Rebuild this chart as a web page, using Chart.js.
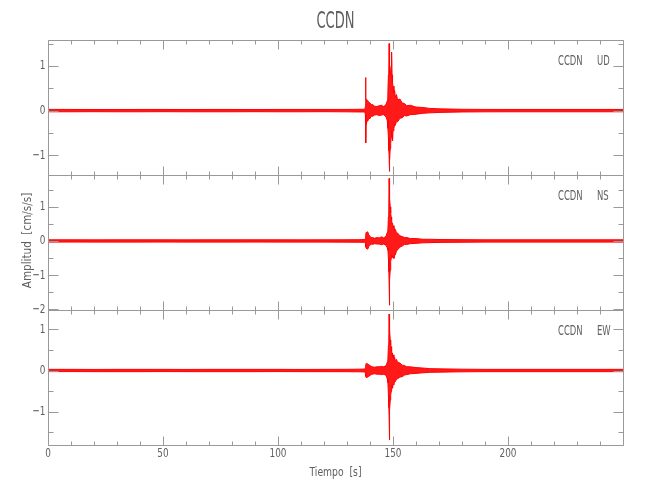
<!DOCTYPE html>
<html><head><meta charset="utf-8">
<script src="https://cdn.jsdelivr.net/npm/chart.js@4"></script>
<style>
html,body{margin:0;padding:0;background:#fff;}
#wrap{position:relative;width:650px;height:500px;}
canvas{position:absolute;left:0;top:0;}
</style></head><body>
<div id="wrap">
<canvas id="c1" width="650" height="500"></canvas>
<canvas id="c2" width="650" height="500"></canvas>
<canvas id="c3" width="650" height="500"></canvas>
</div>
<script>
// ---- data (seconds, cm/s/s envelope read from the record) ----
const times = [0,10,20,30,40,50,60,70,80,90,100,110,120,130,135,
  137.8,138.0,138.1,138.2,138.3,138.5,139.0,139.5,140.0,140.5,141.0,142,143,144,145,146,147,147.5,147.8,148.0,148.2,148.3,148.4,148.5,148.6,148.8,149.0,149.2,149.4,149.6,149.8,150.0,150.4,150.7,151.0,151.5,152,153,154,155,156,157.5,160,163,166,170,
  180,190,200,210,220,230,240,250];

const udUpper = [0.028,0.026,0.025,0.024,0.026,0.026,0.024,0.026,0.026,0.024,0.026,0.026,0.026,0.027,0.03,
  0.03,0.1,0.74,0.3,0.25,0.22,0.23,0.18,0.17,0.13,0.14,0.1,0.09,0.11,0.12,0.09,0.14,0.22,0.45,0.8,1.0,1.5,1.0,0.85,1.0,0.8,0.9,1.0,1.31,0.8,0.62,0.55,0.38,0.45,0.3,0.36,0.24,0.26,0.17,0.16,0.11,0.12,0.08,0.07,0.05,0.04,
  0.03,0.027,0.026,0.026,0.026,0.026,0.026,0.026];
const udLower = [-0.026,-0.026,-0.024,-0.026,-0.026,-0.024,-0.026,-0.026,-0.026,-0.024,-0.026,-0.026,-0.024,-0.027,-0.03,
  -0.03,-0.1,-0.3,-0.72,-0.3,-0.22,-0.24,-0.17,-0.18,-0.12,-0.13,-0.1,-0.09,-0.11,-0.1,-0.09,-0.14,-0.22,-0.4,-0.6,-0.9,-1.0,-1.36,-1.05,-1.1,-0.85,-0.74,-0.6,-0.45,-0.55,-0.67,-0.45,-0.4,-0.3,-0.33,-0.24,-0.25,-0.17,-0.16,-0.11,-0.12,-0.09,-0.08,-0.06,-0.05,-0.04,
  -0.03,-0.027,-0.026,-0.026,-0.026,-0.026,-0.026,-0.026];

const nsUpper = [0.034,0.034,0.032,0.034,0.034,0.034,0.032,0.034,0.034,0.034,0.034,0.032,0.034,0.035,0.038,
  0.04,0.08,0.15,0.2,0.25,0.24,0.27,0.18,0.13,0.1,0.1,0.08,0.1,0.09,0.12,0.09,0.14,0.25,0.37,0.7,1.2,1.83,1.3,1.49,1.25,1.0,0.81,0.7,0.61,0.5,0.52,0.42,0.45,0.32,0.34,0.24,0.23,0.15,0.13,0.1,0.1,0.07,0.07,0.05,0.05,0.042,
  0.038,0.034,0.034,0.034,0.034,0.034,0.034,0.034];
const nsLower = [-0.034,-0.032,-0.034,-0.034,-0.034,-0.032,-0.034,-0.034,-0.034,-0.032,-0.034,-0.034,-0.034,-0.035,-0.038,
  -0.04,-0.07,-0.12,-0.18,-0.2,-0.22,-0.24,-0.16,-0.12,-0.09,-0.1,-0.08,-0.09,-0.09,-0.11,-0.09,-0.13,-0.2,-0.27,-0.5,-0.9,-1.2,-1.88,-1.5,-1.15,-0.85,-0.6,-0.51,-0.41,-0.45,-0.48,-0.44,-0.51,-0.4,-0.41,-0.3,-0.26,-0.18,-0.15,-0.1,-0.1,-0.08,-0.07,-0.055,-0.05,-0.042,
  -0.038,-0.034,-0.034,-0.034,-0.034,-0.034,-0.034,-0.034];

const ewUpper = [0.028,0.028,0.026,0.028,0.028,0.028,0.026,0.028,0.028,0.028,0.028,0.026,0.028,0.029,0.032,
  0.035,0.07,0.1,0.14,0.17,0.17,0.16,0.14,0.12,0.1,0.09,0.08,0.09,0.09,0.1,0.09,0.12,0.2,0.3,0.6,0.9,1.37,0.9,1.0,0.98,0.74,0.62,0.58,0.46,0.42,0.33,0.38,0.28,0.32,0.24,0.27,0.2,0.18,0.13,0.12,0.09,0.09,0.07,0.06,0.045,0.04,
  0.032,0.028,0.028,0.028,0.028,0.028,0.028,0.028];
const ewLower = [-0.028,-0.026,-0.028,-0.028,-0.028,-0.026,-0.028,-0.028,-0.028,-0.028,-0.026,-0.028,-0.028,-0.029,-0.032,
  -0.035,-0.07,-0.1,-0.14,-0.17,-0.17,-0.16,-0.14,-0.12,-0.1,-0.09,-0.08,-0.09,-0.09,-0.1,-0.09,-0.12,-0.2,-0.3,-0.6,-0.9,-1.1,-1.69,-1.2,-0.96,-0.72,-0.6,-0.51,-0.35,-0.38,-0.43,-0.34,-0.35,-0.25,-0.27,-0.21,-0.2,-0.16,-0.15,-0.11,-0.1,-0.08,-0.07,-0.055,-0.045,-0.04,
  -0.032,-0.028,-0.028,-0.028,-0.028,-0.028,-0.028,-0.028];

const station = 'CCDN';
const components = ['UD', 'NS', 'EW'];
const xTickLabels = [0, 50, 100, 150, 200];
const yTickLabels = [[-1, 0, 1], [-2, -1, 0, 1], [-1, 0, 1]];
const xTitle = 'Tiempo  [s]';
const yTitle = 'Amplitud  [cm/s/s]';

// ---- layout / style ----
const FONT = "'DejaVu Sans Condensed', 'Liberation Sans Narrow', 'DejaVu Sans', sans-serif";
const TXT = '#606060';
const AXIS = '#999';
const PLOT_L = 48, PLOT_R = 623;
const panels = [
  {top: 40,  bottom: 175, min: -1.44, max: 1.58, up: udUpper, lo: udLower},
  {top: 175, bottom: 310, min: -2.02, max: 1.93, up: nsUpper, lo: nsLower},
  {top: 310, bottom: 445, min: -1.81, max: 1.47, up: ewUpper, lo: ewLower}
];

function drawNarrowText(ctx, text, x, y, size, sx, align, rot) {
  ctx.save();
  ctx.font = size + 'px ' + FONT;
  ctx.textBaseline = 'middle';
  ctx.textAlign = align;
  ctx.translate(x, y);
  if (rot) ctx.rotate(rot);
  ctx.scale(sx, 1);
  ctx.fillText(text, 0, 0);
  ctx.restore();
}
const fmt = v => (v < 0 ? '\u2212' + (-v) : String(v));

const framePlugin = {
  id: 'frame',
  afterDatasetsDraw(chart, args, opts) {
    const {ctx, chartArea: a} = chart;
    const xs = chart.scales.x, ys = chart.scales.y;
    const i = opts.idx;
    ctx.save();
    ctx.strokeStyle = AXIS;
    ctx.lineWidth = 1;
    const L = Math.round(a.left) + 0.5, R = Math.round(a.right) + 0.5;
    const T = Math.round(a.top) + 0.5, B = Math.round(a.bottom) + 0.5;
    ctx.beginPath();
    ctx.rect(L, T, R - L, B - T);
    for (let v = 0; v <= 250; v += 10) {
      const px = Math.round(xs.getPixelForValue(v)) + 0.5;
      const len = (v % 50 === 0) ? 9 : 4;
      ctx.moveTo(px, T); ctx.lineTo(px, T + len);
      ctx.moveTo(px, B); ctx.lineTo(px, B - len);
    }
    for (let v = Math.ceil(ys.min * 2) / 2; v <= ys.max + 1e-9; v += 0.5) {
      const py = Math.round(ys.getPixelForValue(v)) + 0.5;
      const len = Number.isInteger(v) ? 10 : 5;
      ctx.moveTo(L, py); ctx.lineTo(L + len, py);
      ctx.moveTo(R, py); ctx.lineTo(R - len, py);
    }
    ctx.stroke();
    ctx.fillStyle = TXT;
    yTickLabels[i].forEach(v => drawNarrowText(ctx, fmt(v), 45.5, ys.getPixelForValue(v), 13, 0.76, 'right'));
    drawNarrowText(ctx, station, 558, a.top + 21, 14, 0.67, 'left');
    drawNarrowText(ctx, components[i], 597, a.top + 21, 14, 0.67, 'left');
    if (i === 0) {
      drawNarrowText(ctx, station, (a.left + a.right) / 2, 22.5, 23, 0.63, 'center');
    }
    if (i === 1) {
      drawNarrowText(ctx, yTitle, 28, 240.5, 13, 0.89, 'center', -Math.PI / 2);
    }
    if (i === 2) {
      xTickLabels.forEach(v => drawNarrowText(ctx, String(v), xs.getPixelForValue(v), 454, 13, 0.76, 'center'));
      drawNarrowText(ctx, xTitle, (a.left + a.right) / 2, 472.5, 13, 0.79, 'center');
    }
    ctx.restore();
  }
};

panels.forEach((p, i) => {
  const upPts = times.map((t, k) => ({x: t, y: p.up[k]}));
  const loPts = times.map((t, k) => ({x: t, y: p.lo[k]}));
  new Chart(document.getElementById('c' + (i + 1)), {
    type: 'line',
    data: {
      datasets: [
        {data: upPts, borderColor: '#ff0000', borderWidth: 1, pointRadius: 0, fill: false, tension: 0},
        {data: loPts, borderColor: '#ff0000', borderWidth: 1, pointRadius: 0, fill: '-1',
         backgroundColor: 'rgba(255,0,0,0.9)', tension: 0}
      ]
    },
    options: {
      responsive: false,
      animation: false,
      events: [],
      layout: {padding: {left: PLOT_L, right: 650 - PLOT_R, top: p.top, bottom: 500 - p.bottom}},
      plugins: {
        legend: {display: false},
        tooltip: {enabled: false},
        title: {display: false},
        frame: {idx: i}
      },
      scales: {
        x: {type: 'linear', min: 0, max: 250, display: false},
        y: {type: 'linear', min: p.min, max: p.max, display: false}
      }
    },
    plugins: [framePlugin]
  });
});
</script>
</body></html>
